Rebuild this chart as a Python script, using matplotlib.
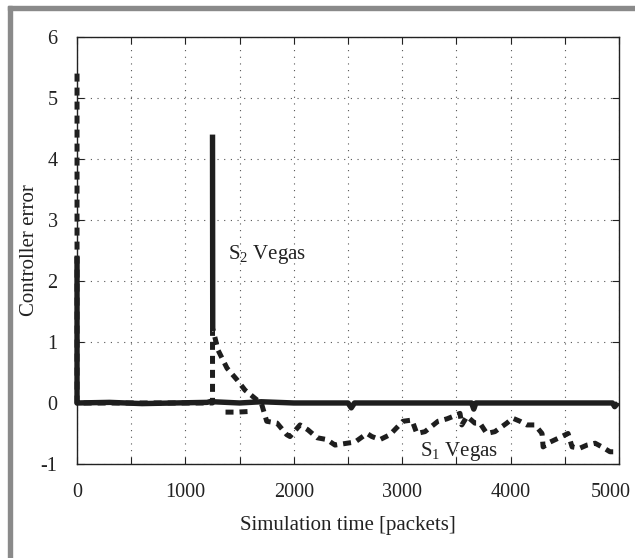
import matplotlib.pyplot as plt
from matplotlib.patches import Rectangle
from matplotlib.ticker import MultipleLocator
from matplotlib.transforms import ScaledTranslation
import numpy as np

TEXT = "#222222"
FRAME = "#8A8A8A"
GRID = "#555555"
LINE = "#1E1E1E"

x_ticks = [0, 1000, 2000, 3000, 4000, 5000]

# S2 Vegas controller error (solid); nan splits the start-up spike
s2_t = [0, 0, 5, 300, 600, 900, 1200, 1245, np.nan,
        1250, 1252, np.nan,
        1255, 1500, 1700, 2000, 2500, 2530, 2560, 3000, 3500,
        3640, 3660, 3680, 4000, 4500, 4940, 4960, 4990]
s2_err = [2.4, 0.0, 0.0, 0.01, -0.01, 0.0, 0.01, 0.03, np.nan,
          4.4, 1.2, np.nan,
          0.02, 0.0, 0.02, 0.0, 0.0, -0.08, 0.0, 0.0, 0.0,
          0.0, -0.1, 0.0, 0.0, 0.0, 0.0, -0.06, 0.0]

# S1 Vegas controller error (dashed)
s1_t = [0, 0, 10, 1250, 1250, 1255, 1300, 1384, 1476, 1550, 1660, 1700,
        1750, 1845, 1935, 1965, 2057, 2130, 2215, 2305, 2380, 2490,
        2565, 2675, 2720, 2795, 2887, 3007, 3090, 3135, 3210, 3330,
        3413, 3470, 3533, 3550, 3598, 3670, 3717, 3780, 3855, 3965,
        4020, 4087, 4150, 4225, 4290, 4300, 4365, 4437, 4530, 4567,
        4640, 4705, 4780, 4843, 4917, 4980, np.nan,
        1370, 1400, 1476, 1580, 1610]
s1_err = [5.4, 0.0, 0.0, 0.0, 1.2, 1.2, 0.87, 0.57, 0.38, 0.21, 0.05, 0.0,
          -0.3, -0.33, -0.52, -0.55, -0.36, -0.44, -0.57, -0.6, -0.69, -0.66,
          -0.64, -0.5, -0.55, -0.6, -0.52, -0.3, -0.28, -0.5, -0.47, -0.3,
          -0.26, -0.22, -0.17, -0.36, -0.22, -0.33, -0.33, -0.5, -0.47, -0.33,
          -0.25, -0.3, -0.36, -0.36, -0.5, -0.72, -0.64, -0.58, -0.5, -0.72,
          -0.74, -0.69, -0.66, -0.72, -0.8, -0.8, np.nan,
          -0.15, -0.15, -0.15, -0.14, -0.2]

plt.rcParams.update({
    "font.family": ["Liberation Serif", "DejaVu Serif"],
    "font.size": 14,
    "mathtext.fontset": "custom",
    "mathtext.rm": "Liberation Serif",
    "mathtext.it": "Liberation Serif:italic",
    "axes.unicode_minus": False,
})

fig = plt.figure(figsize=(6.35, 5.58), dpi=100)
fig.patch.set_facecolor("white")
ax = fig.add_axes([0.1213, 0.1685, 0.8535, 0.7652])

# partial grey border along the top and left edges
fig.patches.append(Rectangle((8 / 635, 0), 3.5 / 635, 1 - 6 / 558,
                             transform=fig.transFigure, color=FRAME, zorder=0))
fig.patches.append(Rectangle((8 / 635, 1 - 10 / 558), 1, 3.5 / 558,
                             transform=fig.transFigure, color=FRAME, zorder=0))

ax.plot(s2_t, s2_err, color=LINE, linewidth=3.9, solid_capstyle="butt",
        zorder=3, clip_on=False)
ax.plot(s1_t, s1_err, color=LINE, linewidth=3.6, linestyle=(0, (1.6, 1.2)),
        dash_capstyle="butt", zorder=2, clip_on=False)

ax.set_xlim(0, 5000)
ax.set_ylim(-1, 6)
ax.set_xticks(x_ticks)
ax.xaxis.set_minor_locator(MultipleLocator(500))
ax.yaxis.set_major_locator(MultipleLocator(1))
ax.grid(True, which="both", axis="x", linestyle=(0, (1, 5)), color=GRID, linewidth=0.8)
ax.grid(True, which="major", axis="y", linestyle=(0, (1, 5)), color=GRID, linewidth=0.8)
ax.tick_params(which="both", direction="in", top=True, right=True, length=5,
               width=0.8, colors=TEXT, labelsize=14.5, pad=14)
for spine in ax.spines.values():
    spine.set_linewidth(1.0)
    spine.set_color(TEXT)

ax.set_xlabel("Simulation time [packets]", color=TEXT, fontsize=15, labelpad=10)
ax.set_ylabel("Controller error", color=TEXT, fontsize=15, labelpad=1)

# nudge the last x tick label inward so it stays on the canvas
last = ax.xaxis.get_major_ticks()[-1].label1
last.set_transform(last.get_transform() + ScaledTranslation(-8 / 100, 0, fig.dpi_scale_trans))

ax.text(1390, 2.43, r"S$_\mathrm{2}$ Vegas", fontsize=15, color=TEXT, va="center")
ax.text(3160, -0.8, r"S$_\mathrm{1}$ Vegas", fontsize=15, color=TEXT, va="center")

fig.savefig("out.png", dpi=100)
